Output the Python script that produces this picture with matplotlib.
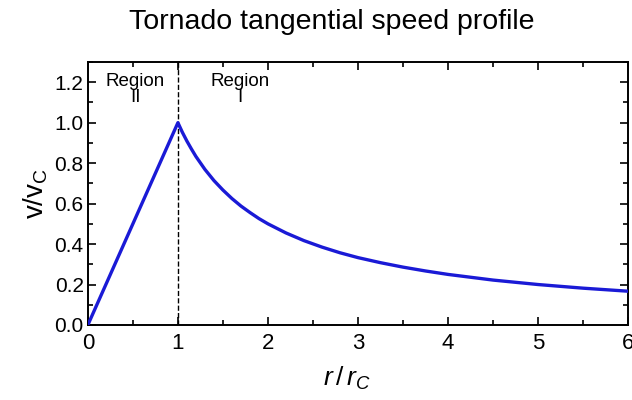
import matplotlib
matplotlib.use("Agg")
import matplotlib.pyplot as plt
from matplotlib.ticker import MultipleLocator, FormatStrFormatter

# --- data (r / r_C vs v / v_C) ---
r_ratio = [0.0, 1.0, 1.05, 1.1, 1.15, 1.2, 1.3, 1.4, 1.5, 1.6, 1.7, 1.8,
           1.9, 2.0, 2.2, 2.4, 2.6, 2.8, 3.0, 3.25, 3.5, 3.75, 4.0, 4.5,
           5.0, 5.5, 6.0]
v_ratio = [0.0, 1.0, 0.952, 0.909, 0.87, 0.833, 0.769, 0.714, 0.667, 0.625,
           0.588, 0.556, 0.526, 0.50, 0.455, 0.417, 0.385, 0.357, 0.333,
           0.308, 0.286, 0.267, 0.25, 0.222, 0.20, 0.182, 0.167]
core_radius = 1.0
region_labels = ["Region\nII", "Region\nI"]
region_x = [0.53, 1.69]

plt.rcParams["font.family"] = ["Liberation Sans", "DejaVu Sans"]
plt.rcParams["mathtext.fontset"] = "custom"
plt.rcParams["mathtext.rm"] = "Liberation Sans"
plt.rcParams["mathtext.it"] = "Liberation Sans:italic"

fig = plt.figure(figsize=(6.32, 4.0), dpi=100)
ax = fig.add_axes([0.139, 0.1875, 0.855, 0.6575])

ax.plot(r_ratio, v_ratio, color="#1a1ad6", lw=2.4, zorder=3,
        solid_joinstyle="round")
ax.axvline(core_radius, color="black", ls="--", lw=1.0, zorder=2)

for x, lab in zip(region_x, region_labels):
    ax.text(x, 1.165, lab, ha="center", va="center", fontsize=13.5,
            linespacing=0.95)

ax.set_xlim(0, 6)
ax.set_ylim(0, 1.3)
ax.xaxis.set_major_locator(MultipleLocator(1))
ax.xaxis.set_minor_locator(MultipleLocator(0.5))
ax.yaxis.set_major_locator(MultipleLocator(0.2))
ax.yaxis.set_minor_locator(MultipleLocator(0.1))
ax.yaxis.set_major_formatter(FormatStrFormatter("%.1f"))

ax.tick_params(which="both", direction="in", top=True, right=True, width=1.2)
ax.tick_params(which="major", length=6)
ax.tick_params(which="minor", length=3.5)
ax.tick_params(axis="y", labelsize=15, pad=3)
ax.tick_params(axis="x", labelsize=16, pad=6)
for s in ax.spines.values():
    s.set_linewidth(1.4)

ax.set_xlabel(r"$r\,/\,r_C$", fontsize=19, labelpad=3)
ax.xaxis.set_label_coords(0.48, -0.15)
ax.set_ylabel(r"$\mathrm{v/v_C}$", fontsize=20, labelpad=3)
fig.suptitle("Tornado tangential speed profile", fontsize=20.5, x=0.525, y=0.978)

fig.savefig("out.png", dpi=100)
